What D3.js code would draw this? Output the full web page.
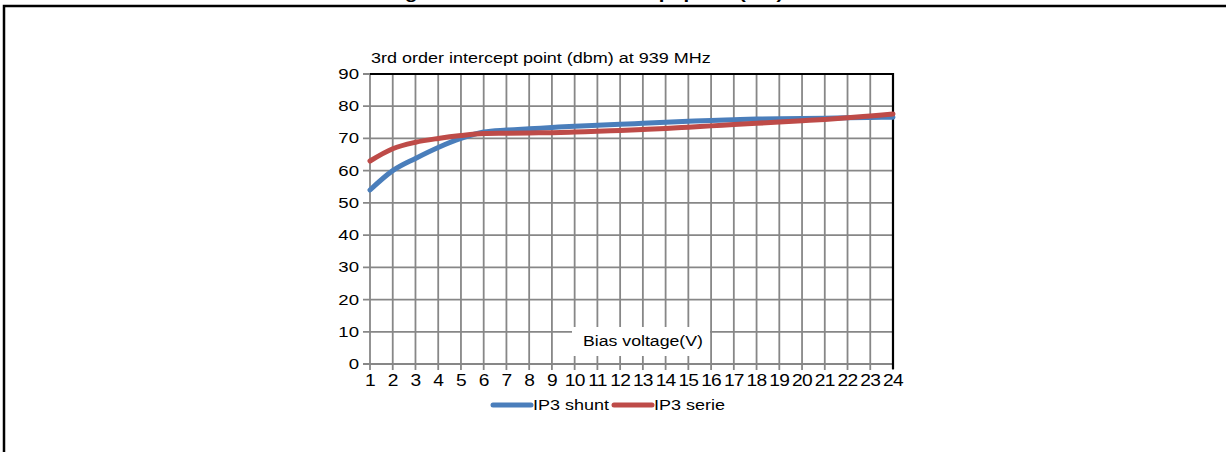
<!DOCTYPE html>
<html>
<head>
<meta charset="utf-8">
<script src="https://cdn.jsdelivr.net/npm/d3@7"></script>
<style>
  body { margin: 0; background: #fff; }
  svg text { font-family: "Liberation Sans", Arial, sans-serif; fill: #000; }
</style>
</head>
<body>
<svg id="chart" width="1226" height="452"></svg>
<script>
// bias voltage (V)
var voltages = [1,2,3,4,5,6,7,8,9,10,11,12,13,14,15,16,17,18,19,20,21,22,23,24];
var ip3Shunt = [54,60,63.8,67.2,70,72,72.6,73,73.4,73.8,74.1,74.4,74.7,75,75.3,75.6,75.8,76,76.1,76.2,76.3,76.4,76.5,76.6];
var ip3Serie = [63,66.8,68.8,70,70.9,71.5,71.6,71.7,71.8,72,72.2,72.5,72.8,73.1,73.5,73.9,74.3,74.7,75.1,75.5,75.9,76.4,77,77.6];
var yTicks = [0,10,20,30,40,50,60,70,80,90];
var seriesNames = ["IP3 shunt", "IP3 serie"];
var colors = ["#4a7ebb", "#be4b48"];

var svg = d3.select("#chart");

// the source text is a bit wider than Liberation Sans
function wide(px, py, sx) {
  return "translate(" + px + "," + py + ") scale(" + (sx || 1.2) + ",1)";
}

// page frame (cut off at the top)
svg.append("text")
   .attr("transform", wide(585, -1))
   .attr("text-anchor", "middle")
   .style("font-weight", "bold").style("font-size", "17px")
   .text("Figure 6. Third order intercept point (IP3)");
svg.append("path")
   .attr("d", "M4,460 V6 H1230")
   .attr("fill", "none").attr("stroke", "#000").attr("stroke-width", 2.5);

var x = d3.scaleLinear().domain([1, 24]).range([370, 893]);
var y = d3.scaleLinear().domain([0, 90]).range([364, 74]);

var grid = svg.append("g").attr("stroke", "#878787").attr("stroke-width", 1.8);
grid.selectAll(".vg").data(voltages).enter().append("line")
    .attr("x1", function(d) { return x(d); }).attr("x2", function(d) { return x(d); })
    .attr("y1", y(90)).attr("y2", y(0) + 6);
grid.selectAll(".hg").data(yTicks).enter().append("line")
    .attr("x1", x(1) - 7).attr("x2", x(24))
    .attr("y1", function(d) { return y(d); }).attr("y2", function(d) { return y(d); });

// black top and right border
svg.append("path")
   .attr("d", "M" + x(1) + "," + y(90) + " H" + x(24) + " V" + (y(0) + 5))
   .attr("fill", "none").attr("stroke", "#000").attr("stroke-width", 2.2);

// y tick labels
svg.selectAll(".yl").data(yTicks).enter().append("text")
   .attr("transform", function(d) { return wide(359, y(d) + 5); })
   .attr("text-anchor", "end").style("font-size", "15.5px")
   .text(function(d) { return d; });

// x tick labels
svg.selectAll(".xl").data(voltages).enter().append("text")
   .attr("transform", function(d) { return wide(x(d), 386); })
   .attr("text-anchor", "middle").style("font-size", "16px")
   .style("letter-spacing", "-0.6px")
   .text(function(d) { return d; });

// axis titles
svg.append("text")
   .attr("transform", wide(371, 63))
   .style("font-size", "15px")
   .text("3rd order intercept point (dbm) at 939 MHz");

svg.append("rect")
   .attr("x", 572).attr("y", 327).attr("width", 138).attr("height", 29)
   .attr("fill", "#fff");
svg.append("text")
   .attr("transform", wide(643, 346, 1.18))
   .attr("text-anchor", "middle")
   .style("font-size", "15px").text("Bias voltage(V)");

var line = d3.line()
    .x(function(d) { return x(d[0]); })
    .y(function(d) { return y(d[1]); })
    .curve(d3.curveMonotoneX);

[ip3Shunt, ip3Serie].forEach(function(vals, i) {
  svg.append("path")
     .datum(voltages.map(function(v, k) { return [v, vals[k]]; }))
     .attr("d", line)
     .attr("fill", "none")
     .attr("stroke", colors[i])
     .attr("stroke-width", 5)
     .attr("stroke-linecap", "round");
});

// legend
var legend = svg.append("g");
var lx = [493, 614];
seriesNames.forEach(function(name, i) {
  legend.append("line")
        .attr("x1", lx[i]).attr("x2", lx[i] + 38)
        .attr("y1", 405).attr("y2", 405)
        .attr("stroke", colors[i]).attr("stroke-width", 5)
        .attr("stroke-linecap", "round");
  legend.append("text")
        .attr("transform", wide(lx[i] + 40, 410))
        .style("font-size", "15px")
        .text(name);
});
</script>
</body>
</html>
